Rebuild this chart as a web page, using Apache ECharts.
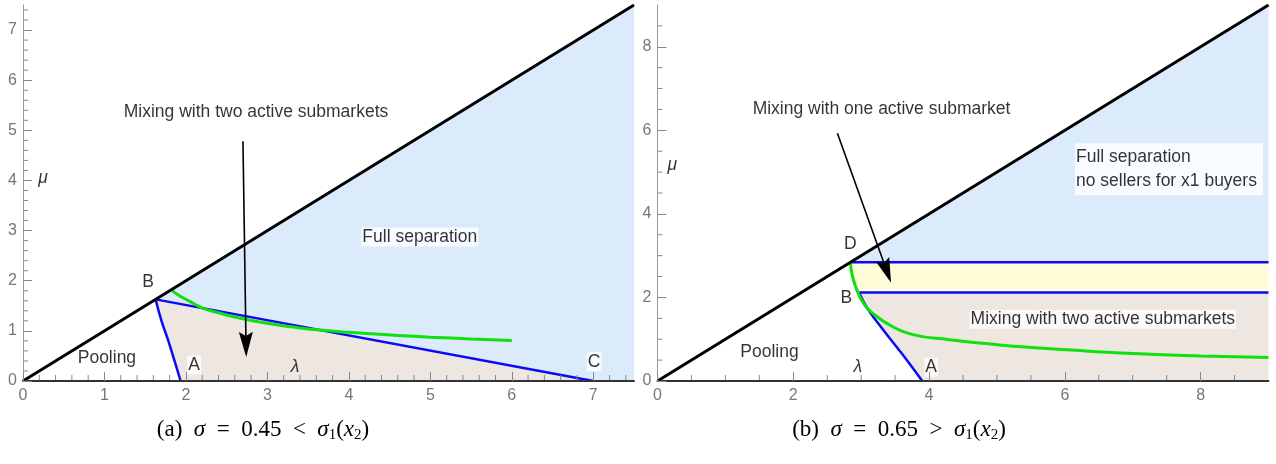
<!DOCTYPE html>
<html><head><meta charset="utf-8">
<script src="https://cdn.jsdelivr.net/npm/echarts@6/dist/echarts.min.js"></script>
<style>html,body{margin:0;padding:0;background:#fff}#c{width:1276px;height:464px}</style>
</head><body><div id="c"></div>
<script>
// ---------- Panel (a): sigma = 0.45 ----------
const aXTicks = [0, 1, 2, 3, 4, 5, 6, 7];
const aYTicks = [0, 1, 2, 3, 4, 5, 6, 7];
const aMinorTicks = [0.2, 0.4, 0.6, 0.8, 1.2, 1.4, 1.6, 1.8, 2.2, 2.4, 2.6, 2.8, 3.2, 3.4, 3.6, 3.8,
  4.2, 4.4, 4.6, 4.8, 5.2, 5.4, 5.6, 5.8, 6.2, 6.4, 6.6, 6.8, 7.2, 7.4];
const aDiagonal = [[0, 0], [7.5, 7.5]];
const aLineBC = [[1.628, 1.628], [7, 0]];
const aCurveBA = [[1.628, 1.628], [1.70, 1.20], [1.78, 0.82], [1.86, 0.40], [1.935, 0]];
const aGreen = [[1.82, 1.82], [1.9, 1.72], [2.0, 1.63], [2.1, 1.54], [2.21, 1.45], [2.4, 1.36], [2.7, 1.24],
  [3.0, 1.15], [3.3, 1.08], [3.65, 1.015], [4.0, 0.97], [4.6, 0.91], [5.0, 0.875], [5.5, 0.84], [6.0, 0.81]];
const aRegionSeparation = [[1.628, 1.628], [7.5, 7.5], [7.5, 0], [7, 0]];
const aRegionMixing = [[1.628, 1.628], [7, 0], [1.935, 0], [1.86, 0.40], [1.78, 0.82], [1.70, 1.20]];
const aArrow = [[2.70, 4.78, 2.74, 0.48]];
const aPlainLabels = [['Mixing with two active submarkets', 2.86, 5.37], ['B', 1.535, 1.98], ['Pooling', 1.03, 0.465]];
const aBoxLabels = [['Full separation', 4.87, 2.87], ['A', 2.10, 0.32], ['C', 7.01, 0.385]];
const aItalicLabels = [['μ', 0.245, 4.05], ['λ', 3.34, 0.285]];

// ---------- Panel (b): sigma = 0.65 ----------
const bXTicks = [0, 2, 4, 6, 8];
const bYTicks = [0, 2, 4, 6, 8];
const bMinorTicks = [0.5, 1, 1.5, 2.5, 3, 3.5, 4.5, 5, 5.5, 6.5, 7, 7.5, 8.5];
const bDiagonal = [[0, 0], [9, 9]];
const bLineTop = [[2.84, 2.84], [9, 2.84]];
const bLineMid = [[2.97, 2.12], [9, 2.12]];
const bCurveBA = [[2.97, 2.12], [3.08, 1.77], [3.27, 1.34], [3.52, 0.82], [3.71, 0.42], [3.90, 0]];
const bGreen = [[2.84, 2.84], [2.86, 2.6], [2.89, 2.4], [2.93, 2.21], [3.0, 1.95], [3.08, 1.76], [3.17, 1.62],
  [3.42, 1.34], [3.76, 1.11], [4.3, 0.99], [5.0, 0.87], [5.62, 0.79], [6.3, 0.72], [7.1, 0.65], [8.0, 0.60], [9.0, 0.56]];
const bRegionSeparation = [[2.84, 2.84], [9, 9], [9, 2.84]];
const bRegionOne = [[2.84, 2.84], [9, 2.84], [9, 2.12], [2.97, 2.12], [2.93, 2.21], [2.89, 2.4], [2.86, 2.6]];
const bRegionTwo = [[2.97, 2.12], [9, 2.12], [9, 0], [3.90, 0], [3.71, 0.42], [3.52, 0.82], [3.27, 1.34], [3.08, 1.77]];
const bArrow = [[2.65, 5.93, 3.44, 2.35]];
const bPlainLabels = [['Mixing with one active submarket', 3.30, 6.50], ['D', 2.84, 3.28], ['B', 2.78, 1.98], ['Pooling', 1.65, 0.68]];
const bBoxLabels = [['Mixing with two active submarkets', 6.56, 1.48], ['A', 4.03, 0.33]];
const bBlockLabels = [['Full separation\nno sellers for x1 buyers', 6.15, 5.07]];
const bItalicLabels = [['μ', 0.217, 5.17], ['λ', 2.95, 0.34]];

const BLUE_FILL = '#dcebfc', BEIGE_FILL = '#eee6e0', YELLOW_FILL = '#fffdd8';
const BLUE = '#0a0af5', GREEN = '#10e010';
const SANS = 'Liberation Sans', SERIF = 'Liberation Serif';

function polygonSeries(g, pts, color) {
  return {
    type: 'custom', xAxisIndex: g, yAxisIndex: g, silent: true, z: 1, data: pts,
    renderItem: function (params, api) {
      if (params.dataIndex !== 0) return null;
      return { type: 'polygon', shape: { points: pts.map(p => api.coord(p)) }, style: { fill: color } };
    }
  };
}
function lineSeries(g, pts, color, width, smooth, z) {
  return {
    type: 'line', xAxisIndex: g, yAxisIndex: g, data: pts, showSymbol: false, symbol: 'none', silent: true,
    smooth: smooth, z: z || 3, lineStyle: { color: color, width: width }, animation: false
  };
}
function arrowSeries(g, arr) {
  return {
    type: 'custom', xAxisIndex: g, yAxisIndex: g, silent: true, z: 6, data: arr,
    dimensions: ['x1', 'y1', 'x2', 'y2'], encode: { x: [0, 2], y: [1, 3] },
    renderItem: function (params, api) {
      const p1 = api.coord([api.value(0), api.value(1)]);
      const p2 = api.coord([api.value(2), api.value(3)]);
      const dx = p2[0] - p1[0], dy = p2[1] - p1[1], L = Math.hypot(dx, dy);
      const ux = dx / L, uy = dy / L, nx = -uy, ny = ux;
      const hl = 25, hw = 7, notch = 4;
      const base = [p2[0] - ux * hl, p2[1] - uy * hl];
      const back = [p2[0] - ux * (hl - notch), p2[1] - uy * (hl - notch)];
      return {
        type: 'group', children: [
          { type: 'line', shape: { x1: p1[0], y1: p1[1], x2: back[0], y2: back[1] }, style: { stroke: '#000', lineWidth: 1.6 } },
          { type: 'polygon', shape: { points: [p2, [base[0] + nx * hw, base[1] + ny * hw], back, [base[0] - nx * hw, base[1] - ny * hw]] }, style: { fill: '#000' } }
        ]
      };
    }
  };
}
// Minor tick marks drawn through the axis scale (one short segment per tick value)
function minorTickSeries(g, dim, values) {
  return {
    type: 'custom', xAxisIndex: g, yAxisIndex: g, silent: true, z: 9, clip: false,
    dimensions: ['x', 'y'], encode: { x: 0, y: 1 },
    data: values.map(v => dim === 'x' ? [v, 0] : [0, v]),
    renderItem: function (params, api) {
      const p = api.coord([api.value(0), api.value(1)]);
      const len = 5;
      const shape = dim === 'x' ? { x1: p[0], y1: p[1] - 1, x2: p[0], y2: p[1] - 1 - len }
                                : { x1: p[0], y1: p[1], x2: p[0] + len, y2: p[1] };
      return { type: 'line', shape: shape, style: { stroke: '#888', lineWidth: 1 } };
    }
  };
}
function labelSeries(g, list, extra) {
  return {
    type: 'scatter', xAxisIndex: g, yAxisIndex: g, silent: true, z: 8, symbolSize: 1,
    itemStyle: { color: 'rgba(0,0,0,0)' },
    data: list.map(l => ({ value: [l[1], l[2]], label: { formatter: l[0] } })),
    label: Object.assign({ show: true, position: 'inside', color: '#000', fontSize: 17.5, fontFamily: SANS }, extra)
  };
}
function mainAxis(dim, g, max, interval, ticks) {
  const isX = dim === 'x';
  return {
    gridIndex: g, type: 'value', min: 0, max: max, interval: interval, z: 10,
    position: isX ? 'bottom' : 'left',
    axisLine: { onZero: false, lineStyle: isX ? { color: '#333', width: 2 } : { color: '#999', width: 1 } },
    axisTick: { inside: true, length: 9, lineStyle: { color: '#888' }, customValues: ticks },
    axisLabel: { customValues: ticks, color: '#777', fontSize: 16, margin: isX ? 7 : 6, fontFamily: SANS },
    splitLine: { show: false }
  };
}
function caption(x, letter, value, rel) {
  const E = '\u2002';
  return {
    type: 'text', x: x, y: 430, z: 20,
    style: {
      text: '{n|(' + letter + ')' + E + '}{i|σ}{n|' + E + '=' + E + value + E + rel + E + '}{i|σ}{s|1}{n|(}{i|x}{s|2}{n|)}',
      align: 'center', verticalAlign: 'middle',
      rich: {
        n: { fontFamily: SERIF, fontSize: 23, lineHeight: 26, fill: '#000', color: '#000' },
        i: { fontFamily: SERIF, fontSize: 23, fontStyle: 'italic', lineHeight: 26, fill: '#000', color: '#000' },
        s: { fontFamily: SERIF, fontSize: 15, lineHeight: 15, verticalAlign: 'bottom', fill: '#000', color: '#000' }
      }
    }
  };
}

const chart = echarts.init(document.getElementById('c'), null, { renderer: 'canvas' });
chart.setOption({
  animation: false,
  backgroundColor: '#fff',
  grid: [
    { left: 23, top: 5, width: 611, height: 376 },
    { left: 657.5, top: 5, width: 611, height: 376 }
  ],
  xAxis: [mainAxis('x', 0, 7.5, 1, aXTicks), mainAxis('x', 1, 9, 2, bXTicks)],
  yAxis: [mainAxis('y', 0, 7.5, 1, aYTicks), mainAxis('y', 1, 9, 2, bYTicks)],
  series: [
    polygonSeries(0, aRegionSeparation, BLUE_FILL),
    polygonSeries(0, aRegionMixing, BEIGE_FILL),
    lineSeries(0, aLineBC, BLUE, 2.5, false),
    lineSeries(0, aCurveBA, BLUE, 2.5, true),
    lineSeries(0, aGreen, GREEN, 3, true, 4),
    lineSeries(0, aDiagonal, '#000', 3, false, 5),
    arrowSeries(0, aArrow),
    minorTickSeries(0, 'x', aMinorTicks),
    minorTickSeries(0, 'y', aMinorTicks),
    labelSeries(0, aPlainLabels, {}),
    labelSeries(0, aBoxLabels, { backgroundColor: '#fff', padding: [1, 1, 0, 1] }),
    labelSeries(0, aItalicLabels, { fontStyle: 'italic' }),

    polygonSeries(1, bRegionSeparation, BLUE_FILL),
    polygonSeries(1, bRegionOne, YELLOW_FILL),
    polygonSeries(1, bRegionTwo, BEIGE_FILL),
    lineSeries(1, bLineTop, BLUE, 2.5, false),
    lineSeries(1, bLineMid, BLUE, 2.5, false),
    lineSeries(1, bCurveBA, BLUE, 2.5, true),
    lineSeries(1, bGreen, GREEN, 3, true, 4),
    lineSeries(1, bDiagonal, '#000', 3, false, 5),
    arrowSeries(1, bArrow),
    minorTickSeries(1, 'x', bMinorTicks),
    minorTickSeries(1, 'y', bMinorTicks),
    labelSeries(1, bPlainLabels, {}),
    labelSeries(1, bBoxLabels, { backgroundColor: '#fff', padding: [1, 1, 0, 1] }),
    labelSeries(1, bBlockLabels, { backgroundColor: '#fff', padding: [2, 6, 2, 1], align: 'left', lineHeight: 24 }),
    labelSeries(1, bItalicLabels, { fontStyle: 'italic' })
  ],
  graphic: [caption(263, 'a', '0.45', '<'), caption(899, 'b', '0.65', '>')]
});
</script></body></html>
